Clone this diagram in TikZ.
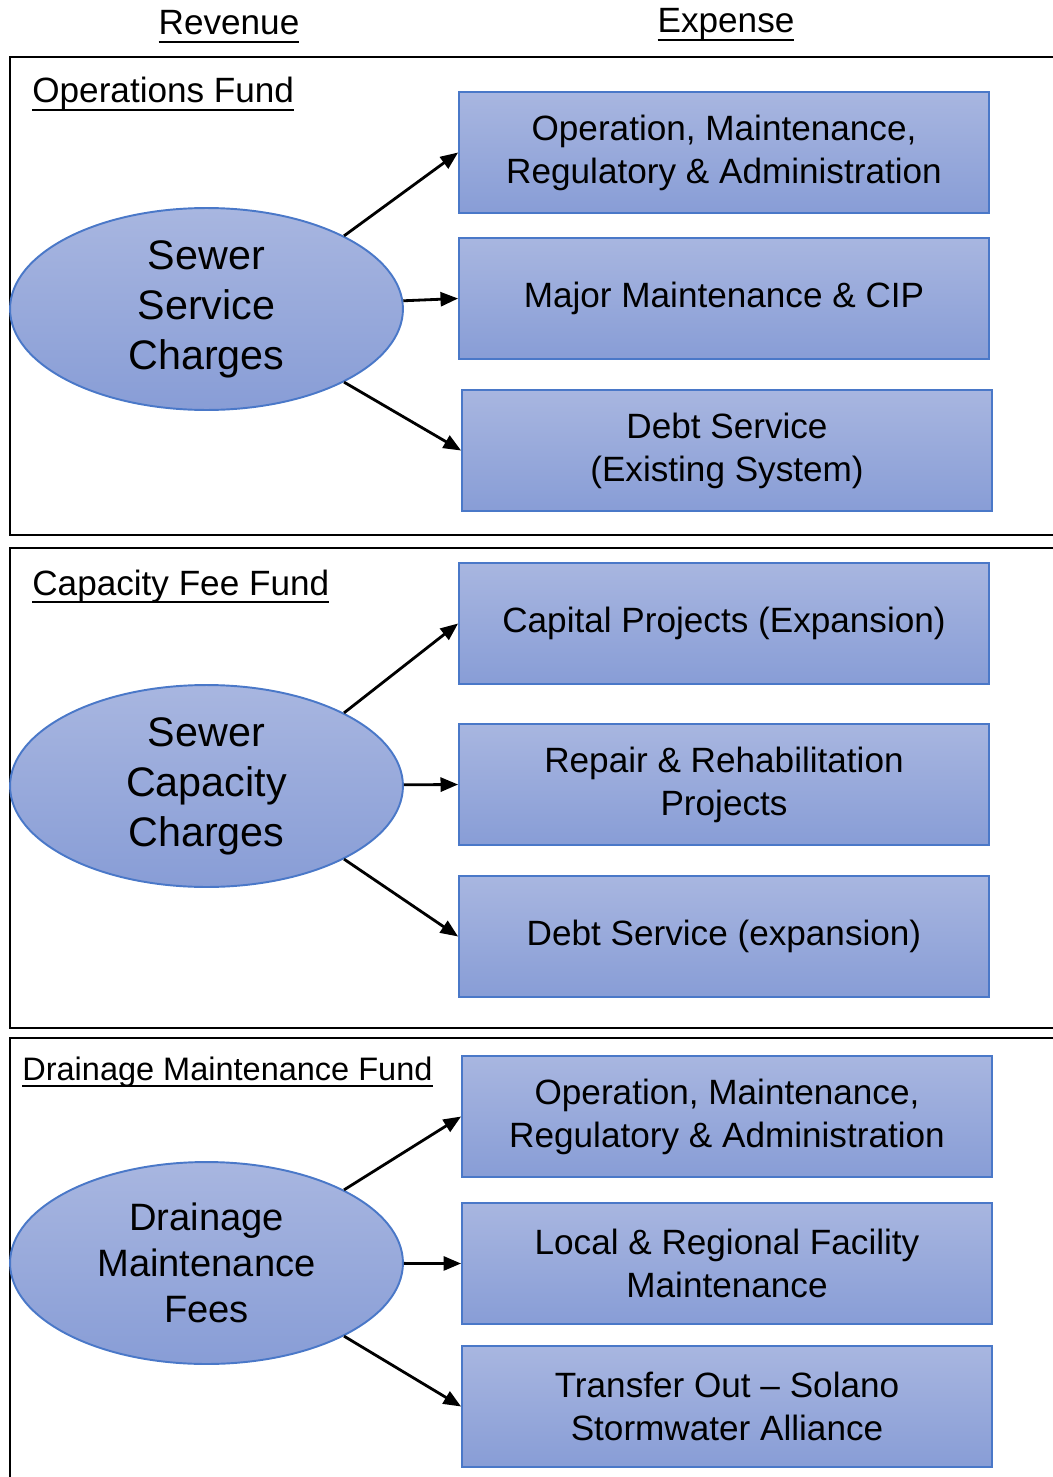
\documentclass[tikz,border=0pt]{standalone}
\usepackage{fontspec}
\setmainfont{Liberation Sans}
\usetikzlibrary{arrows.meta,shapes.geometric}
\definecolor{shadetop}{RGB}{168,182,224}
\definecolor{shadebot}{RGB}{136,157,214}
\definecolor{edgeblue}{RGB}{74,120,200}
% underline at a fixed depth below the baseline
\newcommand{\fundul}[1]{\setbox0\hbox{#1}\rlap{\rule[-0.22em]{\wd0}{0.06em}}\box0}
\tikzset{
  expbox/.style={draw=edgeblue, line width=1.1pt, top color=shadetop, bottom color=shadebot,
    minimum width=10.6cm, minimum height=2.42cm, inner sep=0pt, align=center,
    font=\fontsize{20}{24.4}\selectfont},
  revellipse/.style={ellipse, draw=edgeblue, line width=1.1pt, top color=shadetop, bottom color=shadebot,
    minimum width=7.86cm, minimum height=4.04cm, inner sep=0pt, align=center,
    font=\fontsize{23.5}{28.4}\selectfont},
  fundframe/.style={line width=1.6pt},
  flow/.style={-{Triangle[length=10pt,width=8pt]}, line width=1.6pt},
  fundname/.style={anchor=base west, inner sep=0pt, font=\fontsize{20}{24}\selectfont},
  colhead/.style={anchor=base, inner sep=0pt, font=\fontsize{20}{24}\selectfont}
}
\begin{document}
\begin{tikzpicture}[x=0.02cm, y=-0.02cm]
\useasboundingbox (0,0) rectangle (1052,1477);
% column heads
\node[colhead] (revhead) at (229,35) {\fundul{Revenue}};
\node[colhead] (exphead) at (726,33) {\fundul{Expense}};
% fund frames, cut off at the right
\draw[fundframe] (1060,57) -- (10,57) -- (10,535) -- (1060,535);
\draw[fundframe] (1060,548) -- (10,548) -- (10,1028) -- (1060,1028);
\draw[fundframe] (1060,1038) -- (10,1038) -- (10,1490);
\node[fundname] (opsfund) at (32,103) {\fundul{Operations Fund}};
\node[fundname] (capfund) at (32,595) {\fundul{Capacity Fee Fund}};
\node[fundname, font=\fontsize{18.5}{22}\selectfont] (drnfund) at (22,1080) {\fundul{Drainage Maintenance Fund}};
% revenue
\node[revellipse] (sewsvc) at (206.5,309) {Sewer\\Service\\Charges};
\node[revellipse] (sewcap) at (206.5,786) {Sewer\\Capacity\\Charges};
\node[revellipse, font=\fontsize{21.7}{26}\selectfont] (drnfee) at (206.5,1263) {Drainage\\Maintenance\\Fees};
% expense
\node[expbox] (omra) at (724,152.5) {Operation, Maintenance,\\Regulatory \& Administration};
\node[expbox] (majmnt) at (724,298.5) {Major Maintenance \& CIP};
\node[expbox] (debtex) at (727,450.5) {Debt Service\\(Existing System)};
\node[expbox] (capproj) at (724,623.5) {Capital Projects (Expansion)};
\node[expbox] (rehab) at (724,784.5) {Repair \& Rehabilitation\\Projects};
\node[expbox] (debtxp) at (724,936.5) {Debt Service (expansion)};
\node[expbox] (omrb) at (727,1116.5) {Operation, Maintenance,\\Regulatory \& Administration};
\node[expbox] (facmnt) at (727,1263.5) {Local \& Regional Facility\\Maintenance};
\node[expbox] (solano) at (727,1406.5) {Transfer Out -- Solano\\Stormwater Alliance};
% flows
\foreach \src/\up/\mid/\down in {sewsvc/omra/majmnt/debtex, sewcap/capproj/rehab/debtxp, drnfee/omrb/facmnt/solano} {
  \draw[flow] (\src.28) -- (\up.west);
  \draw[flow] (\src) -- (\mid.west);
  \draw[flow] (\src.-28) -- (\down.west);
}
\end{tikzpicture}
\end{document}
